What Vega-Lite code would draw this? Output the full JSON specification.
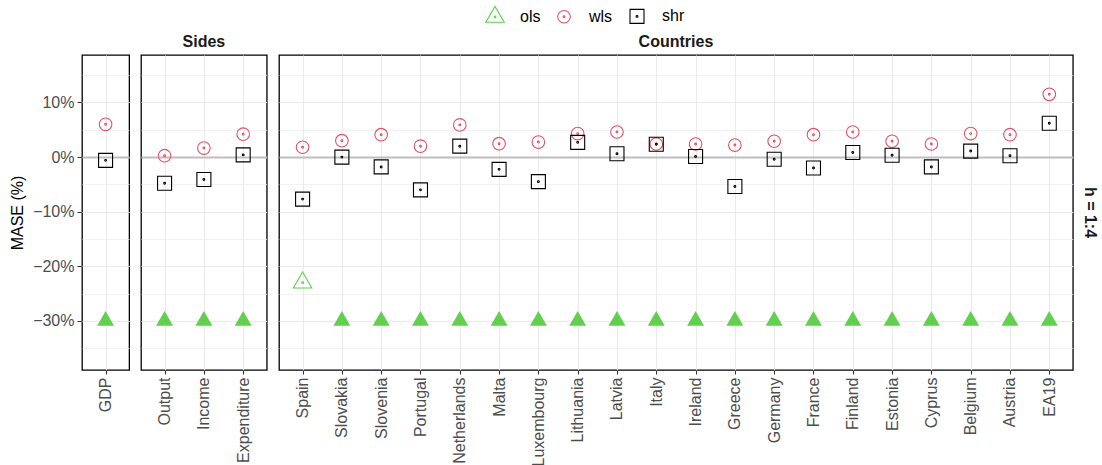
{
  "$schema": "https://vega.github.io/schema/vega-lite/v6.json",
  "padding": {"left": 9, "top": 8, "right": 4, "bottom": 2},
  "data": {"values": [
    {"p": "All", "item": "GDP", "ord": 1, "h": "h = 1:4", "method": "ols", "value": -30, "out": true},
    {"p": "All", "item": "GDP", "ord": 1, "h": "h = 1:4", "method": "wls", "value": 6.0, "out": false},
    {"p": "All", "item": "GDP", "ord": 1, "h": "h = 1:4", "method": "shr", "value": -0.6, "out": false},
    {"p": "Sides", "item": "Output", "ord": 2, "h": "h = 1:4", "method": "ols", "value": -30, "out": true},
    {"p": "Sides", "item": "Output", "ord": 2, "h": "h = 1:4", "method": "wls", "value": 0.25, "out": false},
    {"p": "Sides", "item": "Output", "ord": 2, "h": "h = 1:4", "method": "shr", "value": -4.8, "out": false},
    {"p": "Sides", "item": "Income", "ord": 3, "h": "h = 1:4", "method": "ols", "value": -30, "out": true},
    {"p": "Sides", "item": "Income", "ord": 3, "h": "h = 1:4", "method": "wls", "value": 1.65, "out": false},
    {"p": "Sides", "item": "Income", "ord": 3, "h": "h = 1:4", "method": "shr", "value": -4.1, "out": false},
    {"p": "Sides", "item": "Expenditure", "ord": 4, "h": "h = 1:4", "method": "ols", "value": -30, "out": true},
    {"p": "Sides", "item": "Expenditure", "ord": 4, "h": "h = 1:4", "method": "wls", "value": 4.2, "out": false},
    {"p": "Sides", "item": "Expenditure", "ord": 4, "h": "h = 1:4", "method": "shr", "value": 0.4, "out": false},
    {"p": "Countries", "item": "Spain", "ord": 5, "h": "h = 1:4", "method": "ols", "value": -23.0, "out": false},
    {"p": "Countries", "item": "Spain", "ord": 5, "h": "h = 1:4", "method": "wls", "value": 1.8, "out": false},
    {"p": "Countries", "item": "Spain", "ord": 5, "h": "h = 1:4", "method": "shr", "value": -7.7, "out": false},
    {"p": "Countries", "item": "Slovakia", "ord": 6, "h": "h = 1:4", "method": "ols", "value": -30, "out": true},
    {"p": "Countries", "item": "Slovakia", "ord": 6, "h": "h = 1:4", "method": "wls", "value": 3.0, "out": false},
    {"p": "Countries", "item": "Slovakia", "ord": 6, "h": "h = 1:4", "method": "shr", "value": 0.0, "out": false},
    {"p": "Countries", "item": "Slovenia", "ord": 7, "h": "h = 1:4", "method": "ols", "value": -30, "out": true},
    {"p": "Countries", "item": "Slovenia", "ord": 7, "h": "h = 1:4", "method": "wls", "value": 4.1, "out": false},
    {"p": "Countries", "item": "Slovenia", "ord": 7, "h": "h = 1:4", "method": "shr", "value": -1.8, "out": false},
    {"p": "Countries", "item": "Portugal", "ord": 8, "h": "h = 1:4", "method": "ols", "value": -30, "out": true},
    {"p": "Countries", "item": "Portugal", "ord": 8, "h": "h = 1:4", "method": "wls", "value": 2.0, "out": false},
    {"p": "Countries", "item": "Portugal", "ord": 8, "h": "h = 1:4", "method": "shr", "value": -6.0, "out": false},
    {"p": "Countries", "item": "Netherlands", "ord": 9, "h": "h = 1:4", "method": "ols", "value": -30, "out": true},
    {"p": "Countries", "item": "Netherlands", "ord": 9, "h": "h = 1:4", "method": "wls", "value": 5.9, "out": false},
    {"p": "Countries", "item": "Netherlands", "ord": 9, "h": "h = 1:4", "method": "shr", "value": 2.0, "out": false},
    {"p": "Countries", "item": "Malta", "ord": 10, "h": "h = 1:4", "method": "ols", "value": -30, "out": true},
    {"p": "Countries", "item": "Malta", "ord": 10, "h": "h = 1:4", "method": "wls", "value": 2.45, "out": false},
    {"p": "Countries", "item": "Malta", "ord": 10, "h": "h = 1:4", "method": "shr", "value": -2.25, "out": false},
    {"p": "Countries", "item": "Luxembourg", "ord": 11, "h": "h = 1:4", "method": "ols", "value": -30, "out": true},
    {"p": "Countries", "item": "Luxembourg", "ord": 11, "h": "h = 1:4", "method": "wls", "value": 2.75, "out": false},
    {"p": "Countries", "item": "Luxembourg", "ord": 11, "h": "h = 1:4", "method": "shr", "value": -4.5, "out": false},
    {"p": "Countries", "item": "Lithuania", "ord": 12, "h": "h = 1:4", "method": "ols", "value": -30, "out": true},
    {"p": "Countries", "item": "Lithuania", "ord": 12, "h": "h = 1:4", "method": "wls", "value": 4.3, "out": false},
    {"p": "Countries", "item": "Lithuania", "ord": 12, "h": "h = 1:4", "method": "shr", "value": 2.7, "out": false},
    {"p": "Countries", "item": "Latvia", "ord": 13, "h": "h = 1:4", "method": "ols", "value": -30, "out": true},
    {"p": "Countries", "item": "Latvia", "ord": 13, "h": "h = 1:4", "method": "wls", "value": 4.6, "out": false},
    {"p": "Countries", "item": "Latvia", "ord": 13, "h": "h = 1:4", "method": "shr", "value": 0.6, "out": false},
    {"p": "Countries", "item": "Italy", "ord": 14, "h": "h = 1:4", "method": "ols", "value": -30, "out": true},
    {"p": "Countries", "item": "Italy", "ord": 14, "h": "h = 1:4", "method": "wls", "value": 2.4, "out": false},
    {"p": "Countries", "item": "Italy", "ord": 14, "h": "h = 1:4", "method": "shr", "value": 2.35, "out": false},
    {"p": "Countries", "item": "Ireland", "ord": 15, "h": "h = 1:4", "method": "ols", "value": -30, "out": true},
    {"p": "Countries", "item": "Ireland", "ord": 15, "h": "h = 1:4", "method": "wls", "value": 2.4, "out": false},
    {"p": "Countries", "item": "Ireland", "ord": 15, "h": "h = 1:4", "method": "shr", "value": 0.1, "out": false},
    {"p": "Countries", "item": "Greece", "ord": 16, "h": "h = 1:4", "method": "ols", "value": -30, "out": true},
    {"p": "Countries", "item": "Greece", "ord": 16, "h": "h = 1:4", "method": "wls", "value": 2.2, "out": false},
    {"p": "Countries", "item": "Greece", "ord": 16, "h": "h = 1:4", "method": "shr", "value": -5.4, "out": false},
    {"p": "Countries", "item": "Germany", "ord": 17, "h": "h = 1:4", "method": "ols", "value": -30, "out": true},
    {"p": "Countries", "item": "Germany", "ord": 17, "h": "h = 1:4", "method": "wls", "value": 2.9, "out": false},
    {"p": "Countries", "item": "Germany", "ord": 17, "h": "h = 1:4", "method": "shr", "value": -0.4, "out": false},
    {"p": "Countries", "item": "France", "ord": 18, "h": "h = 1:4", "method": "ols", "value": -30, "out": true},
    {"p": "Countries", "item": "France", "ord": 18, "h": "h = 1:4", "method": "wls", "value": 4.1, "out": false},
    {"p": "Countries", "item": "France", "ord": 18, "h": "h = 1:4", "method": "shr", "value": -2.0, "out": false},
    {"p": "Countries", "item": "Finland", "ord": 19, "h": "h = 1:4", "method": "ols", "value": -30, "out": true},
    {"p": "Countries", "item": "Finland", "ord": 19, "h": "h = 1:4", "method": "wls", "value": 4.6, "out": false},
    {"p": "Countries", "item": "Finland", "ord": 19, "h": "h = 1:4", "method": "shr", "value": 0.85, "out": false},
    {"p": "Countries", "item": "Estonia", "ord": 20, "h": "h = 1:4", "method": "ols", "value": -30, "out": true},
    {"p": "Countries", "item": "Estonia", "ord": 20, "h": "h = 1:4", "method": "wls", "value": 2.9, "out": false},
    {"p": "Countries", "item": "Estonia", "ord": 20, "h": "h = 1:4", "method": "shr", "value": 0.35, "out": false},
    {"p": "Countries", "item": "Cyprus", "ord": 21, "h": "h = 1:4", "method": "ols", "value": -30, "out": true},
    {"p": "Countries", "item": "Cyprus", "ord": 21, "h": "h = 1:4", "method": "wls", "value": 2.4, "out": false},
    {"p": "Countries", "item": "Cyprus", "ord": 21, "h": "h = 1:4", "method": "shr", "value": -1.8, "out": false},
    {"p": "Countries", "item": "Belgium", "ord": 22, "h": "h = 1:4", "method": "ols", "value": -30, "out": true},
    {"p": "Countries", "item": "Belgium", "ord": 22, "h": "h = 1:4", "method": "wls", "value": 4.3, "out": false},
    {"p": "Countries", "item": "Belgium", "ord": 22, "h": "h = 1:4", "method": "shr", "value": 1.1, "out": false},
    {"p": "Countries", "item": "Austria", "ord": 23, "h": "h = 1:4", "method": "ols", "value": -30, "out": true},
    {"p": "Countries", "item": "Austria", "ord": 23, "h": "h = 1:4", "method": "wls", "value": 4.1, "out": false},
    {"p": "Countries", "item": "Austria", "ord": 23, "h": "h = 1:4", "method": "shr", "value": 0.25, "out": false},
    {"p": "Countries", "item": "EA19", "ord": 24, "h": "h = 1:4", "method": "ols", "value": -30, "out": true},
    {"p": "Countries", "item": "EA19", "ord": 24, "h": "h = 1:4", "method": "wls", "value": 11.5, "out": false},
    {"p": "Countries", "item": "EA19", "ord": 24, "h": "h = 1:4", "method": "shr", "value": 6.2, "out": false}
  ]},
  "facet": {
    "column": {
      "field": "p", "type": "nominal", "sort": ["All", "Sides", "Countries"], "title": null,
      "header": {"labelExpr": "datum.value == 'All' ? '' : datum.value", "labelFontWeight": "bold", "labelFontSize": 16, "labelColor": "#1A1A1A", "labelPadding": 4, "labelFont": "Liberation Sans"}
    },
    "row": {
      "field": "h", "type": "nominal", "title": null,
      "header": {"labelOrient": "right", "labelAngle": 90, "labelFontWeight": "bold", "labelFontSize": 16, "labelColor": "#1A1A1A", "labelPadding": 8, "labelFont": "Liberation Sans", "labelAlign": "center", "labelBaseline": "top"}
    }
  },
  "align": "each",
  "spacing": {"column": 10},
  "resolve": {"scale": {"x": "independent"}},
  "spec": {
    "width": {"step": 39.3},
    "height": 315,
    "layer": [
      {
        "transform": [{"filter": "!datum.out"}],
        "mark": {"type": "point", "filled": false, "strokeWidth": 1.1, "size": 196, "opacity": 1},
        "encoding": {
          "x": {"field": "item", "type": "nominal", "sort": {"field": "ord", "op": "min"}, "scale": {"type": "point", "padding": 0.6},
                "axis": {"title": null, "labelAngle": -90, "labelAlign": "right", "labelBaseline": "middle", "grid": true}},
          "y": {"field": "value", "type": "quantitative", "scale": {"domain": [-39, 18.7], "nice": false, "zero": false},
                "axis": {"title": "MASE (%)", "grid": true, "tickCount": 30, "values": [-35, -30, -25, -20, -15, -10, -5, 0, 5, 10, 15],
                         "labelExpr": "datum.value % 10 == 0 ? datum.label + '%' : ''", "format": "d", "labelOverlap": false,
                         "tickOpacity": {"condition": {"test": "datum.value % 10 != 0", "value": 0}, "value": 1},
                         "gridColor": {"condition": {"test": "datum.value == 0", "value": "#BEBEBE"}, "value": "#EBEBEB"},
                         "gridWidth": {"condition": [{"test": "datum.value == 0", "value": 2}, {"test": "datum.value % 10 != 0", "value": 0.7}], "value": 1.1}}},
          "color": {"field": "method", "type": "nominal", "scale": {"domain": ["ols", "wls", "shr"], "range": ["#61D04F", "#DF536B", "#000000"]},
                    "legend": {"title": null, "orient": "none", "legendX": 405, "legendY": -47, "direction": "horizontal", "symbolSize": 196, "symbolStrokeWidth": 1.1, "labelFontSize": 16, "labelColor": "#000000", "labelOffset": 17, "columnPadding": 14, "labelFont": "Liberation Sans"}},
          "shape": {"field": "method", "type": "nominal", "scale": {"domain": ["ols", "wls", "shr"], "range": [
            "M0,-1.52L1.32,0.76L-1.32,0.76Z M-0.13,0A0.13,0.13,0,1,1,0.13,0A0.13,0.13,0,1,1,-0.13,0Z",
            "M-0.9,0A0.9,0.9,0,1,1,0.9,0A0.9,0.9,0,1,1,-0.9,0Z M-0.13,0A0.13,0.13,0,1,1,0.13,0A0.13,0.13,0,1,1,-0.13,0Z",
            "M-1,-1L1,-1L1,1L-1,1Z M-0.13,0A0.13,0.13,0,1,1,0.13,0A0.13,0.13,0,1,1,-0.13,0Z"]},
                    "legend": {"title": null, "orient": "none", "legendX": 405, "legendY": -47, "direction": "horizontal", "symbolSize": 196, "symbolStrokeWidth": 1.1, "labelFontSize": 16, "labelColor": "#000000", "labelOffset": 17, "columnPadding": 14, "labelFont": "Liberation Sans"}}
        }
      },
      {
        "transform": [{"filter": "datum.out"}],
        "mark": {"type": "point", "filled": true, "size": 196, "opacity": 1, "color": "#61D04F", "shape": "M0,-1.4L1.21,0.7L-1.21,0.7Z"},
        "encoding": {
          "x": {"field": "item", "type": "nominal", "sort": {"field": "ord", "op": "min"}},
          "y": {"field": "value", "type": "quantitative"}
        }
      }
    ]
  },
  "config": {
    "font": "Liberation Sans",
    "view": {"stroke": "#000000", "strokeWidth": 1.3},
    "axis": {"labelFont": "Liberation Sans", "labelFontSize": 16, "labelColor": "#4D4D4D", "tickColor": "#333333", "tickSize": 4, "labelPadding": 3, "domain": false, "gridColor": "#EBEBEB", "gridWidth": 1.1, "titleFont": "Liberation Sans", "titleFontSize": 16, "titleFontWeight": "normal", "titleColor": "#000000", "titlePadding": 7},
    "legend": {"labelFont": "Liberation Sans"}
  }
}
